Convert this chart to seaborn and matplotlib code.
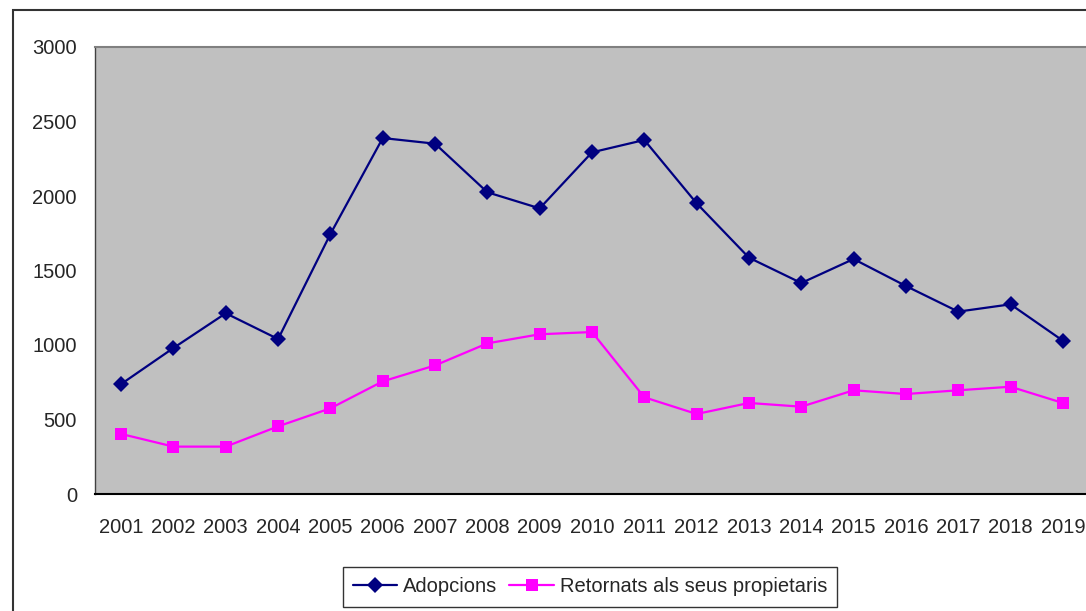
import numpy as np
import pandas as pd
import seaborn as sns
import matplotlib.pyplot as plt
from matplotlib.patches import Rectangle

# Data
years = [str(y) for y in range(2001, 2020)]
adopcions = [738, 980, 1213, 1040, 1745, 2389, 2351, 2025, 1917, 2293,
             2376, 1951, 1586, 1416, 1577, 1396, 1224, 1273, 1029]
retornats = [403, 318, 318, 454, 575, 756, 863, 1011, 1072, 1087,
             649, 537, 611, 586, 696, 671, 696, 720, 611]
series_names = ["Adopcions", "Retornats als seus propietaris"]
y_ticks = [0, 500, 1000, 1500, 2000, 2500, 3000]

df = pd.DataFrame({
    "pos": list(range(len(years))) * 2,
    "valor": adopcions + retornats,
    "serie": [series_names[0]] * len(years) + [series_names[1]] * len(years),
})

sns.set_style("white")
plt.rcParams["font.family"] = ["Liberation Sans", "DejaVu Sans"]
plt.rcParams["font.size"] = 14.5

fig = plt.figure(figsize=(10.86, 6.11), dpi=100)
# plot area runs slightly past the right edge, as in the reference
ax = fig.add_axes([95 / 1086, 117 / 611, 994 / 1086, 447 / 611])
ax.set_facecolor("#C0C0C0")

sns.lineplot(data=df, x="pos", y="valor", hue="serie", style="serie",
             palette=["#000080", "#FF00FF"], markers=["D", "s"], dashes=False,
             markersize=8, markeredgewidth=0, linewidth=1.6, ax=ax, legend=True)

ax.set_xlim(-0.5, len(years) - 0.5)
ax.set_ylim(0, 3000)
ax.set_yticks(y_ticks)
ax.set_xticks(np.arange(-0.5, len(years)), labels=[""] * (len(years) + 1))
ax.set_xticks(np.arange(len(years)), labels=years, minor=True)
ax.tick_params(axis="x", which="major", direction="out", length=4.5, width=1, color="#404040")
ax.tick_params(axis="x", which="minor", length=0, pad=17, labelsize=14.5)
ax.tick_params(axis="y", direction="out", length=5, width=1, color="#404040", pad=8, labelsize=14.5)
ax.set_xlabel("")
ax.set_ylabel("")

for side in ["top", "right"]:
    ax.spines[side].set_color("#808080")
    ax.spines[side].set_linewidth(1.5)
ax.spines["left"].set_color("#404040")
ax.spines["left"].set_linewidth(1)
ax.spines["bottom"].set_color("#000000")
ax.spines["bottom"].set_linewidth(1.5)

handles, labels = ax.get_legend_handles_labels()
ax.legend_.remove()
leg = fig.legend(handles, labels, loc="center", bbox_to_anchor=(590 / 1086, 24 / 611),
                 ncol=2, frameon=True, fancybox=False, edgecolor="black",
                 handlelength=2.2, handletextpad=0.3, columnspacing=0.6,
                 borderpad=0.5, fontsize=14.5)
leg.get_frame().set_linewidth(1)

# outer chart border (cropped at right and bottom in the reference)
fig.patches.append(Rectangle((13 / 1086, -0.1), 1.2, (611 - 10) / 611 + 0.1,
                             transform=fig.transFigure, fill=False,
                             edgecolor="#333333", linewidth=1.5))

fig.savefig("out.png", dpi=100)
